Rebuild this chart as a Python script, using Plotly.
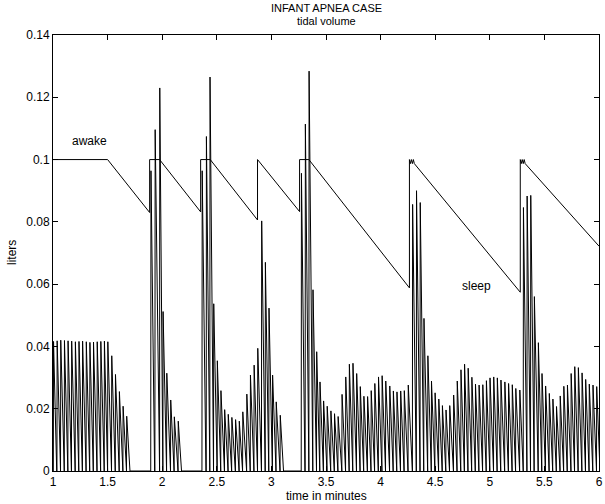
import plotly.graph_objects as go

# ---------------- data ----------------
# Breath onset times (minutes) and peak tidal volume (liters), per breathing run
awake_t = [1.003, 1.036, 1.069, 1.103, 1.136, 1.169, 1.203, 1.236, 1.269, 1.303, 1.336,
           1.369, 1.403, 1.436, 1.469, 1.500, 1.536, 1.570, 1.606, 1.640, 1.673]
awake_v = [0.0416, 0.0418, 0.0420, 0.0419, 0.0418, 0.0417, 0.0415, 0.0416, 0.0417, 0.0415,
           0.0413, 0.0414, 0.0415, 0.0416, 0.0417, 0.0415, 0.0370, 0.0310, 0.0255, 0.0208, 0.0176]

run2_t = [1.895, 1.933, 1.976, 2.006, 2.040, 2.076, 2.109, 2.145]
run2_v = [0.0964, 0.1096, 0.1230, 0.0512, 0.0314, 0.0228, 0.0174, 0.0160]

run3_t = [2.364, 2.403, 2.436, 2.470, 2.503, 2.536, 2.570, 2.603, 2.636, 2.670, 2.704,
          2.736, 2.773, 2.806, 2.840, 2.873, 2.909, 2.943, 2.976, 3.009, 3.042, 3.079]
run3_v = [0.0964, 0.1074, 0.1265, 0.0537, 0.0354, 0.0258, 0.0197, 0.0182, 0.0172, 0.0165, 0.0160,
          0.0190, 0.0247, 0.0308, 0.0340, 0.0394, 0.0803, 0.0670, 0.0523, 0.0308, 0.0222, 0.0179]

run4_t = [3.273, 3.309, 3.343, 3.379, 3.413, 3.443, 3.476, 3.509, 3.543, 3.576, 3.609, 3.645,
          3.679, 3.712, 3.745, 3.779, 3.812, 3.845, 3.879, 3.912, 3.945, 3.979, 4.012, 4.045,
          4.082, 4.115, 4.148, 4.182, 4.215, 4.251, 4.291, 4.327, 4.361, 4.395, 4.431, 4.464,
          4.497, 4.531, 4.564, 4.597, 4.631, 4.667, 4.700, 4.734, 4.767, 4.800, 4.834, 4.867,
          4.900, 4.934, 4.967, 5.000, 5.034, 5.067, 5.100, 5.136, 5.170, 5.204, 5.236, 5.273,
          5.306, 5.340, 5.373, 5.406, 5.443, 5.476, 5.509, 5.543, 5.576, 5.609, 5.643, 5.676,
          5.709, 5.743, 5.776, 5.809, 5.843, 5.876, 5.909, 5.943, 5.977]
run4_v = [0.0956, 0.1114, 0.1284, 0.0582, 0.0383, 0.0286, 0.0225, 0.0208, 0.0193, 0.0184, 0.0175, 0.0246,
          0.0302, 0.0343, 0.0346, 0.0313, 0.0271, 0.0240, 0.0239, 0.0258, 0.0281, 0.0302, 0.0306, 0.0289,
          0.0273, 0.0257, 0.0254, 0.0257, 0.0258, 0.0276, 0.0856, 0.0900, 0.0862, 0.0490, 0.0370, 0.0289,
          0.0251, 0.0231, 0.0210, 0.0196, 0.0210, 0.0244, 0.0289, 0.0325, 0.0343, 0.0330, 0.0301, 0.0279,
          0.0276, 0.0277, 0.0290, 0.0299, 0.0302, 0.0299, 0.0292, 0.0286, 0.0281, 0.0277, 0.0265, 0.0260,
          0.0846, 0.0883, 0.0885, 0.0560, 0.0412, 0.0313, 0.0273, 0.0249, 0.0231, 0.0207, 0.0241, 0.0272,
          0.0276, 0.0313, 0.0335, 0.0332, 0.0315, 0.0294, 0.0279, 0.0276, 0.0271]

runs = [(awake_t, awake_v), (run2_t, run2_v), (run3_t, run3_v), (run4_t, run4_v)]

# Sleep/wake state curve (minutes, liters)
state_t = [1.000, 1.500, 1.885, 1.885, 1.976, 2.352, 2.352, 2.440, 2.873, 2.873, 3.258, 3.258,
           3.343, 4.264, 4.264, 4.273, 4.282, 4.291, 4.300, 4.309, 5.279, 5.279, 5.288, 5.297,
           5.306, 5.315, 5.324, 6.000]
state_v = [0.1000, 0.1000, 0.0830, 0.1000, 0.1000, 0.0832, 0.1000, 0.1000, 0.0806, 0.1000, 0.0833, 0.1000,
           0.1000, 0.0588, 0.1000, 0.0987, 0.1000, 0.0987, 0.1000, 0.0987, 0.0574, 0.1000, 0.0987, 0.1000,
           0.0987, 0.1000, 0.0987, 0.0722]

x_ticks = [1, 1.5, 2, 2.5, 3, 3.5, 4, 4.5, 5, 5.5, 6]
x_tick_labels = ["1", "1.5", "2", "2.5", "3", "3.5", "4", "4.5", "5", "5.5", "6"]
y_ticks = [0, 0.02, 0.04, 0.06, 0.08, 0.1, 0.12, 0.14]
y_tick_labels = ["0", "0.02", "0.04", "0.06", "0.08", "0.1", "0.12", "0.14"]

# ---------------- build the breath waveform path ----------------
wx, wy = [], []
for ts, vs in runs:
    for i, (t, a) in enumerate(zip(ts, vs)):
        period = (ts[i + 1] - t) if i + 1 < len(ts) else 0.034
        wx += [t, t + 0.06 * period, t + 0.94 * period]
        wy += [0, a, 0]

FONT = "Liberation Sans, Arial, Helvetica, sans-serif"

fig = go.Figure()
fig.add_trace(go.Scatter(x=wx, y=wy, mode="lines",
                         line=dict(color="black", width=1), hoverinfo="skip"))
fig.add_trace(go.Scatter(x=state_t, y=state_v, mode="lines",
                         line=dict(color="black", width=1), hoverinfo="skip"))

fig.update_layout(
    width=605, height=504,
    margin=dict(l=53, r=2, t=35, b=33),
    paper_bgcolor="white", plot_bgcolor="white",
    showlegend=False,
    font=dict(family=FONT, size=12, color="black"),
)
axis_common = dict(ticks="inside", ticklen=5, tickwidth=1, tickcolor="black",
                   showline=True, linecolor="black", linewidth=1, mirror="ticks",
                   showgrid=False, zeroline=False, ticklabeloverflow="allow",
                   tickfont=dict(family=FONT, size=12, color="black"))
fig.update_xaxes(range=[1, 6], tickvals=x_ticks, ticktext=x_tick_labels, **axis_common)
fig.update_yaxes(range=[0, 0.14], tickvals=y_ticks, ticktext=y_tick_labels, **axis_common)

ann = [
    dict(text="INFANT APNEA CASE", xref="paper", yref="paper", x=0.5, y=1,
         xanchor="center", yanchor="middle", yshift=27, showarrow=False,
         font=dict(family=FONT, size=11, color="black")),
    dict(text="tidal volume", xref="paper", yref="paper", x=0.5, y=1,
         xanchor="center", yanchor="middle", yshift=14, showarrow=False,
         font=dict(family=FONT, size=11, color="black")),
    dict(text="time in minutes", xref="paper", yref="paper", x=0.5, y=0,
         xanchor="center", yanchor="middle", yshift=-25, showarrow=False),
    dict(text="liters", xref="paper", yref="paper", x=0, y=0.5, textangle=-90,
         xanchor="center", yanchor="middle", xshift=-41, showarrow=False),
    dict(text="awake", xref="x", yref="y", x=1.152, y=0.106,
         xanchor="left", yanchor="middle", showarrow=False),
    dict(text="sleep", xref="x", yref="y", x=4.727, y=0.0595,
         xanchor="left", yanchor="middle", showarrow=False),
]
fig.update_layout(annotations=ann)

fig.write_html("out.html", config={"displayModeBar": False, "staticPlot": True})

# remove the browser's default page margin so the 605x504 figure fills the window
with open("out.html", "r", encoding="utf-8") as f:
    html = f.read()
html = html.replace("<head>", "<head><style>html,body{margin:0;padding:0;overflow:hidden;}</style>", 1)
with open("out.html", "w", encoding="utf-8") as f:
    f.write(html)
